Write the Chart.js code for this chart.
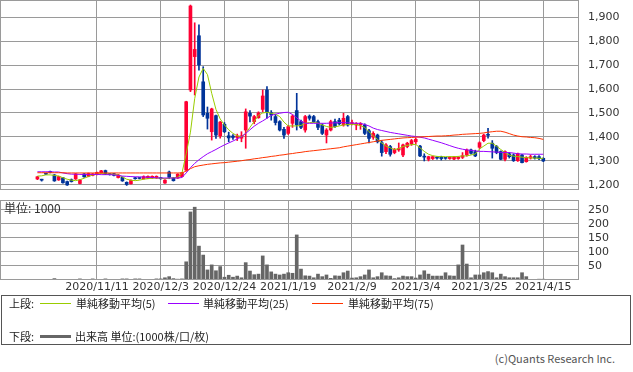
<!DOCTYPE html>
<html><head><meta charset="utf-8">
<script src="https://cdn.jsdelivr.net/npm/chart.js@4.4.1/dist/chart.umd.min.js"></script>
<style>
html,body{margin:0;padding:0;background:#fff;width:633px;height:372px;overflow:hidden;position:relative;font-family:"DejaVu Sans",sans-serif;}
#c1{position:absolute;left:0;top:-10px;}
#c2{position:absolute;left:0;top:190px;}
.t{position:absolute;white-space:nowrap;font-family:"Noto Sans CJK JP","DejaVu Sans",sans-serif;font-size:11px;color:#222;line-height:14px;}
.ln{position:absolute;height:1px;}
#box{position:absolute;left:1px;top:295px;width:630px;height:50px;border:1px solid #555;box-sizing:border-box;}
</style></head>
<body>
<canvas id="c1" width="633" height="210"></canvas>
<canvas id="c2" width="633" height="110"></canvas>
<div class="t" style="left:4px;top:201px;font-size:12px;color:#333;">単位: 1000</div>
<div id="box"></div>
<div class="t" style="left:9px;top:296px;">上段:</div>
<div class="ln" style="left:40px;top:303px;width:31px;background:#99cc00;"></div>
<div class="t" style="left:76px;top:296px;">単純移動平均(5)</div>
<div class="ln" style="left:168px;top:303px;width:31px;background:#9900ff;"></div>
<div class="t" style="left:203px;top:296px;">単純移動平均(25)</div>
<div class="ln" style="left:312px;top:303px;width:31px;background:#ff3300;"></div>
<div class="t" style="left:348px;top:296px;">単純移動平均(75)</div>
<div class="t" style="left:9px;top:329px;">下段:</div>
<div class="ln" style="left:40px;top:335px;width:31px;height:3px;background:#666;"></div>
<div class="t" style="left:75px;top:329px;">出来高 単位:(1000株/口/枚)</div>
<div class="t" style="right:18px;top:351px;color:#555;">(c)Quants Research Inc.</div>
<script>
// ---- data ----
const dates = [
'2020/10/21','2020/10/22','2020/10/23','2020/10/26','2020/10/27','2020/10/28','2020/10/29','2020/10/30',
'2020/11/2','2020/11/4','2020/11/5','2020/11/6','2020/11/9','2020/11/10','2020/11/11','2020/11/12','2020/11/13','2020/11/16','2020/11/17','2020/11/18','2020/11/19','2020/11/20','2020/11/24','2020/11/25','2020/11/26','2020/11/27','2020/11/30',
'2020/12/1','2020/12/2','2020/12/3','2020/12/4','2020/12/7','2020/12/8','2020/12/9','2020/12/10','2020/12/11','2020/12/14','2020/12/15','2020/12/16','2020/12/17','2020/12/18','2020/12/21','2020/12/22','2020/12/23','2020/12/24','2020/12/25','2020/12/28','2020/12/29','2020/12/30',
'2021/1/4','2021/1/5','2021/1/6','2021/1/7','2021/1/8','2021/1/12','2021/1/13','2021/1/14','2021/1/15','2021/1/18','2021/1/19','2021/1/20','2021/1/21','2021/1/22','2021/1/25','2021/1/26','2021/1/27','2021/1/28','2021/1/29',
'2021/2/1','2021/2/2','2021/2/3','2021/2/4','2021/2/5','2021/2/8','2021/2/9','2021/2/10','2021/2/12','2021/2/15','2021/2/16','2021/2/17','2021/2/18','2021/2/19','2021/2/22','2021/2/24','2021/2/25','2021/2/26',
'2021/3/1','2021/3/2','2021/3/3','2021/3/4','2021/3/5','2021/3/8','2021/3/9','2021/3/10','2021/3/11','2021/3/12','2021/3/15','2021/3/16','2021/3/17','2021/3/18','2021/3/19','2021/3/22','2021/3/23','2021/3/24','2021/3/25','2021/3/26','2021/3/29','2021/3/30','2021/3/31',
'2021/4/1','2021/4/2','2021/4/5','2021/4/6','2021/4/7','2021/4/8','2021/4/9','2021/4/12','2021/4/13','2021/4/14','2021/4/15'];
const tickDates = ['2020/11/11','2020/12/3','2020/12/24','2021/1/19','2021/2/9','2021/3/4','2021/3/25','2021/4/15'];
const priceTicks = [1200,1300,1400,1500,1600,1700,1800,1900];
const volumeTicks = [50,100,150,200,250];
const open = [1225,1222,1247,1256,1242,1221,1230,1214,1222,1225,1206,1246,1236,1240,1244,1251,1260,1245,1247,1231,1232,1211,1205,1230,1228,1226,1228,1229,1229,1230,1208,1254,1229,1229,1235,1262,1596,1735,1822,1630,1499,1422,1489,1405,1453,1405,1404,1398,1395,1429,1499,1464,1480,1515,1596,1501,1485,1464,1432,1415,1457,1510,1464,1429,1487,1485,1464,1450,1408,1429,1464,1470,1450,1485,1455,1450,1450,1450,1426,1399,1408,1376,1339,1360,1335,1346,1325,1360,1371,1380,1362,1320,1307,1310,1316,1316,1315,1310,1308,1310,1315,1325,1346,1339,1357,1385,1409,1374,1360,1339,1307,1330,1325,1301,1325,1297,1312,1318,1318,1311];
const high = [1236,1224,1249,1258,1244,1237,1232,1216,1225,1248,1223,1248,1250,1248,1254,1261,1262,1247,1249,1244,1234,1213,1221,1232,1230,1238,1238,1238,1238,1232,1222,1258,1231,1247,1253,1549,1950,1876,1867,1693,1525,1520,1491,1465,1460,1420,1410,1412,1422,1517,1510,1490,1505,1596,1610,1510,1495,1468,1440,1448,1492,1582,1470,1490,1492,1490,1470,1455,1435,1470,1475,1478,1499,1490,1470,1460,1460,1455,1432,1422,1412,1385,1372,1365,1352,1375,1370,1378,1390,1395,1365,1330,1320,1320,1318,1320,1314,1318,1319,1318,1335,1350,1350,1345,1380,1412,1436,1385,1365,1342,1342,1335,1330,1333,1328,1318,1325,1322,1322,1313];
const low = [1222,1216,1243,1250,1215,1219,1207,1198,1212,1223,1204,1232,1234,1238,1242,1249,1243,1241,1238,1229,1215,1198,1203,1224,1225,1224,1226,1227,1227,1224,1206,1226,1216,1227,1233,1258,1589,1575,1679,1485,1433,1387,1394,1395,1418,1380,1390,1385,1380,1353,1463,1455,1478,1505,1478,1470,1450,1425,1394,1410,1440,1429,1435,1420,1470,1460,1430,1410,1375,1425,1440,1450,1445,1445,1450,1430,1432,1410,1375,1390,1375,1320,1330,1320,1330,1340,1318,1355,1365,1370,1318,1300,1300,1306,1308,1304,1307,1307,1305,1307,1310,1320,1328,1318,1352,1380,1395,1312,1330,1305,1300,1312,1298,1298,1292,1295,1308,1308,1305,1297];
const close = [1234,1220,1245,1252,1217,1235,1209,1200,1214,1246,1221,1234,1248,1246,1252,1259,1245,1243,1240,1242,1217,1202,1219,1226,1227,1235,1236,1236,1236,1226,1220,1232,1218,1245,1251,1547,1946,1765,1700,1492,1478,1517,1408,1462,1422,1396,1398,1404,1405,1505,1487,1485,1500,1571,1501,1492,1460,1429,1408,1443,1487,1450,1440,1485,1478,1464,1440,1415,1429,1464,1443,1455,1478,1450,1460,1456,1456,1415,1394,1415,1380,1335,1367,1328,1349,1352,1367,1374,1385,1390,1321,1316,1318,1318,1312,1310,1311,1316,1317,1316,1322,1346,1332,1321,1376,1408,1407,1353,1335,1307,1339,1318,1301,1330,1293,1315,1318,1312,1310,1300];
const volume = [2,2,2,2,5,2,2,2,2,2,4,2,2,4,2,2,4,2,2,2,4,4,2,4,4,2,2,2,4,4,8,12,5,3,4,65,243,260,121,89,36,54,33,48,10,17,10,14,8,62,32,19,21,86,54,29,21,18,21,26,24,161,39,15,14,8,21,12,18,6,15,14,26,32,7,8,12,18,36,8,12,26,15,14,5,8,14,12,12,7,18,33,21,14,14,14,26,15,14,54,125,57,8,18,18,26,30,26,8,21,12,8,8,8,26,12,1,1,3,3];
const ma5 = [1237,1238,1242,1242,1240,1237,1230,1224,1220,1218,1222,1228,1235,1242,1245,1247,1246,1245,1244,1242,1233,1224,1220,1218,1220,1224,1226,1228,1229,1228,1226,1228,1230,1232,1249,1330,1420,1560,1650,1686,1660,1582,1515,1475,1450,1430,1415,1405,1401,1415,1440,1465,1490,1500,1503,1499,1495,1485,1462,1446,1446,1446,1448,1457,1460,1461,1458,1450,1444,1440,1442,1446,1450,1452,1453,1452,1447,1440,1422,1405,1390,1375,1362,1355,1347,1352,1360,1365,1368,1369,1355,1340,1328,1322,1319,1318,1318,1318,1318,1319,1321,1321,1325,1329,1350,1362,1374,1374,1362,1348,1335,1325,1320,1318,1316,1314,1313,1312,1311,1311];
const ma25 = [1255,1255,1255,1255,1254,1254,1250,1247,1245,1245,1244,1244,1244,1244,1244,1243,1243,1243,1242,1240,1237,1236,1235,1234,1234,1233,1232,1231,1230,1229,1229,1229,1229,1229,1231,1250,1272,1290,1305,1318,1330,1339,1348,1358,1367,1375,1383,1392,1401,1415,1430,1445,1457,1467,1478,1490,1495,1499,1502,1503,1494,1480,1466,1457,1457,1457,1457,1457,1457,1458,1459,1460,1460,1459,1458,1457,1457,1452,1446,1437,1431,1427,1423,1419,1416,1413,1410,1407,1404,1402,1399,1396,1391,1386,1381,1376,1370,1364,1358,1353,1349,1346,1344,1342,1340,1340,1339,1338,1337,1336,1335,1335,1333,1330,1329,1329,1328,1328,1328,1328];
const ma75 = [1251,1251,1251,1251,1251,1251,1251,1250,1250,1250,1250,1250,1250,1250,1250,1250,1250,1250,1250,1250,1250,1250,1250,1250,1250,1250,1250,1250,1250,1250,1250,1250,1250,1250,1250,1258,1268,1276,1280,1283,1286,1288,1290,1292,1293,1295,1297,1299,1301,1304,1306,1309,1311,1314,1316,1319,1321,1324,1326,1329,1331,1334,1336,1339,1341,1343,1345,1347,1349,1351,1353,1355,1359,1362,1365,1368,1371,1374,1377,1380,1383,1386,1388,1390,1392,1394,1396,1397,1398,1399,1400,1401,1402,1403,1404,1404,1405,1406,1408,1409,1411,1412,1413,1414,1415,1417,1420,1422,1424,1424,1420,1414,1408,1404,1401,1400,1398,1397,1394,1390];

// ---- styling ----
const UP = '#ff0033', DOWN = '#003399', GRID = '#9a9a9a', TXT = '#333';
const X_MIN = -8.8, X_MAX = 127.4;
const tickPos = tickDates.map(d => dates.indexOf(d));
const colorOf = i => close[i] >= open[i] ? UP : DOWN;

const frame = {id:'frame', afterDraw(c){
  const a=c.chartArea, g=c.ctx; g.save(); g.strokeStyle=GRID; g.lineWidth=1;
  g.strokeRect(Math.round(a.left)+0.5, Math.round(a.top)+0.5, Math.round(a.right-a.left)-1, Math.round(a.bottom-a.top)-1);
  g.restore();
}};

function xScale(showLabels){
  return {
    type:'linear', min:X_MIN, max:X_MAX, offset:false,
    afterBuildTicks: s => { s.ticks = tickPos.map(v=>({value:v})); },
    afterFit: s => { if(showLabels) s.height = 20; s.paddingLeft = 0; s.paddingRight = 0; },
    grid:{color:GRID, drawTicks:false, offset:false, lineWidth:1},
    border:{display:false},
    ticks:{display:showLabels, autoSkip:false, maxRotation:0, minRotation:0, padding:1,
      color:TXT, font:{family:'DejaVu Sans', size:11},
      callback: v => dates[v] || ''}
  };
}
function yFit(s){ s.width = 54; s.paddingTop = 0; s.paddingBottom = 0; }

const idx = dates.map((d,i)=>i);
const common = {
  responsive:false, animation:false, events:[],
  plugins:{legend:{display:false}, tooltip:{enabled:false}},
};

new Chart(document.getElementById('c1'), {
  type:'bar',
  data:{datasets:[
    {type:'line', order:0, data: idx.map(i=>({x:i,y:ma75[i]})), borderColor:'#ff3300', borderWidth:1, pointRadius:0, tension:0},
    {type:'line', order:0, data: idx.map(i=>({x:i,y:ma25[i]})), borderColor:'#9900ff', borderWidth:1, pointRadius:0, tension:0},
    {type:'line', order:0, data: idx.map(i=>({x:i,y:ma5[i]})), borderColor:'#99cc00', borderWidth:1, pointRadius:0, tension:0},
    {order:1, grouped:false, barThickness:3, minBarLength:1, data: idx.map(i=>({x:i,y:[open[i],close[i]]})),
      backgroundColor: ctx => colorOf(ctx.dataIndex), borderWidth:0},
    {order:2, grouped:false, barThickness:1, minBarLength:1, data: idx.map(i=>({x:i,y:[low[i],high[i]]})),
      backgroundColor: ctx => colorOf(ctx.dataIndex), borderWidth:0},
  ]},
  options:{...common,
    layout:{padding:{top:10,bottom:10,left:0,right:0}},
    scales:{
      x: xScale(false),
      y:{type:'linear', position:'right', min:1179, max:1971,
        afterBuildTicks: s => { s.ticks = priceTicks.map(v=>({value:v})); },
        afterFit: yFit,
        grid:{color:GRID, drawTicks:false}, border:{display:false},
        ticks:{padding:9, color:TXT, font:{family:'DejaVu Sans', size:11},
          callback: v => v.toLocaleString('en-US')}}
    }
  },
  plugins:[frame]
});

new Chart(document.getElementById('c2'), {
  type:'bar',
  data:{datasets:[
    {grouped:false, barThickness:3, data: idx.map(i=>({x:i,y:volume[i]})), backgroundColor:'#666666', borderWidth:0}
  ]},
  options:{...common,
    layout:{padding:{top:10,bottom:0,left:0,right:0}},
    scales:{
      x: xScale(true),
      y:{type:'linear', position:'right', min:0, max:285.7,
        afterBuildTicks: s => { s.ticks = volumeTicks.map(v=>({value:v})); },
        afterFit: yFit,
        grid:{color:GRID, drawTicks:false}, border:{display:false},
        ticks:{padding:9, color:TXT, font:{family:'DejaVu Sans', size:11}}}
    }
  },
  plugins:[frame]
});
</script>
</body></html>
